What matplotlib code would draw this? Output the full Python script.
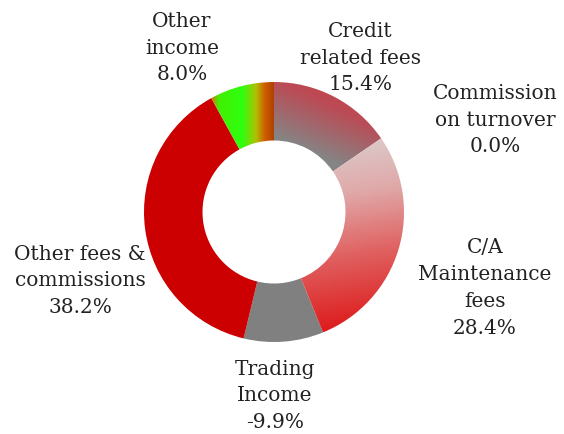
import numpy as np
import matplotlib
matplotlib.use("Agg")
import matplotlib.pyplot as plt
from matplotlib.colors import LinearSegmentedColormap

# ---- data ----
categories = ["Credit\nrelated fees", "Commission\non turnover", "C/A\nMaintenance\nfees",
              "Trading\nIncome", "Other fees &\ncommissions", "Other\nincome"]
values = [15.4, 0.0, 28.4, -9.9, 38.2, 8.0]
value_labels = ["15.4%", "0.0%", "28.4%", "-9.9%", "38.2%", "8.0%"]

# ---- layout / style ----
W, H = 564, 435
fig = plt.figure(figsize=(W / 100, H / 100), dpi=100)
ax = fig.add_axes([0, 0, 1, 1])

cx, cy = 274, H - 213
R = 130
ring = 0.45

sizes = [abs(v) for v in values]
wedges, _ = ax.pie(sizes, startangle=90, counterclock=False, radius=R, center=(cx, cy),
                   wedgeprops=dict(width=R * ring, linewidth=0, edgecolor="none"),
                   frame=True)
ax.set_xlim(0, W)
ax.set_ylim(0, H)
ax.set_aspect("equal")
ax.axis("off")

# gradient definitions: (direction vector (dx,dy) with y up, colour stops)
grads = [
    ((-0.45, -1.0), [(0, "#cc3a3e"), (0.35, "#ba4c56"), (0.75, "#858585"), (1, "#7f8888")]),
    (None, ["#cccccc"]),
    ((0.15, -1.0), [(0, "#dcd0d0"), (0.3, "#e0a8a8"), (0.6, "#e06060"), (1, "#dd1010")]),
    (None, ["#808080"]),
    (None, ["#cc0000"]),
    ((1.0, 0.0), [(0, "#e07000"), (0.12, "#40f000"), (0.5, "#30ff10"), (0.72, "#b0c000"),
                  (0.85, "#d06000"), (1, "#b04000")]),
]

for w, (d, stops) in zip(wedges, grads):
    if d is None:
        w.set_facecolor(stops[0])
        continue
    w.set_facecolor("none")
    bb = w.get_path().get_extents()
    x0, y0, x1, y1 = bb.x0, bb.y0, bb.x1, bb.y1
    n = 200
    X, Y = np.meshgrid(np.linspace(x0, x1, n), np.linspace(y0, y1, n))
    dx, dy = d
    P = X * dx + Y * dy
    t = (P - P.min()) / (P.max() - P.min() + 1e-9)
    cmap = LinearSegmentedColormap.from_list("g", stops)
    im = ax.imshow(t, cmap=cmap, extent=(x0, x1, y0, y1), origin="lower",
                   interpolation="bilinear", zorder=w.get_zorder())
    im.set_clip_path(w)

ax.set_xlim(0, W)
ax.set_ylim(0, H)

# label positions (text block centres, pixels from top-left)
label_pos = [(360, 58), (495, 120), (485, 288), (275, 396), (80, 281), (182, 48)]

font = dict(family="DejaVu Serif", fontsize=14.5, color="#222222",
            ha="center", va="center", linespacing=1.52)
for cat, vl, (lx, ly) in zip(categories, value_labels, label_pos):
    ax.text(lx, H - ly, f"{cat}\n{vl}", **font)

fig.savefig("out.png", dpi=100, facecolor="white")
